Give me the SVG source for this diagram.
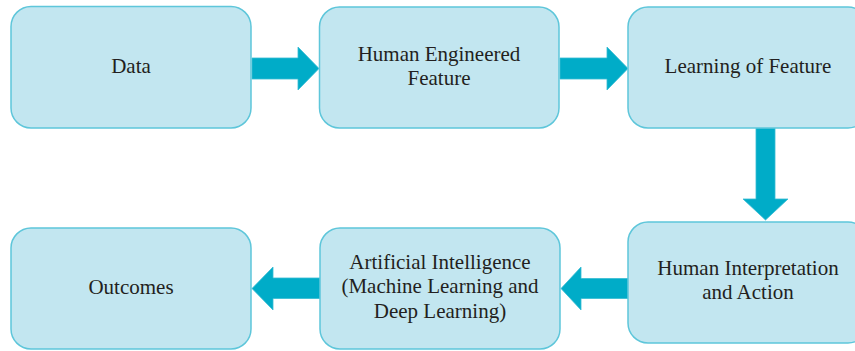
<svg xmlns="http://www.w3.org/2000/svg" width="855" height="351" viewBox="0 0 855 351">
  <style>
    .box { fill: #c2e6f0; stroke: #5ec6da; stroke-width: 1.5; }
    .lbl { font-size: 21px; fill: #231f20; text-anchor: middle; }
    .arrow { fill: #00acc8; stroke: #35bbd3; stroke-width: 0.8; stroke-linejoin: miter; }
  </style>
  <rect width="855" height="351" fill="#ffffff"/>

  <g id="connectors">
    <polygon class="arrow" points="252,58 298,58 298,47 319,68.5 298,90 298,79 252,79"/>
    <polygon class="arrow" points="560,58 607,58 607,47 628,68.5 607,90 607,79 560,79"/>
    <polygon class="arrow" points="756,128 775,128 775,199 788,199 765.5,220 743,199 756,199"/>
    <polygon class="arrow" points="628,278.5 581,278.5 581,267 561,288.5 581,310 581,298.5 628,298.5"/>
    <polygon class="arrow" points="320,278 273,278 273,267 252,288.5 273,310 273,298.5 320,298.5"/>
  </g>

  <g font-family="Liberation Serif, serif">
    <g id="data">
      <rect class="box" x="11" y="6.5" width="240" height="121.5" rx="20"/>
      <text class="lbl" x="131" y="72.5">Data</text>
    </g>

    <g id="human-engineered-feature">
      <rect class="box" x="319.5" y="7" width="239.5" height="121" rx="20"/>
      <text class="lbl" x="439" y="60.5">Human Engineered</text>
      <text class="lbl" x="439" y="84.5">Feature</text>
    </g>

    <g id="learning-of-feature">
      <rect class="box" x="628" y="7" width="240" height="121" rx="20"/>
      <text class="lbl" x="748" y="73">Learning of Feature</text>
    </g>

    <g id="human-interpretation">
      <rect class="box" x="628" y="222" width="240" height="121" rx="20"/>
      <text class="lbl" x="748" y="274.5">Human Interpretation</text>
      <text class="lbl" x="748" y="299">and Action</text>
    </g>

    <g id="artificial-intelligence">
      <rect class="box" x="320" y="228" width="240" height="121" rx="20"/>
      <text class="lbl" x="440" y="268.5">Artificial Intelligence</text>
      <text class="lbl" x="440" y="293">(Machine Learning and</text>
      <text class="lbl" x="440" y="317.5">Deep Learning)</text>
    </g>

    <g id="outcomes">
      <rect class="box" x="11" y="228" width="240" height="121" rx="20"/>
      <text class="lbl" x="131" y="293.5">Outcomes</text>
    </g>
  </g>
</svg>
